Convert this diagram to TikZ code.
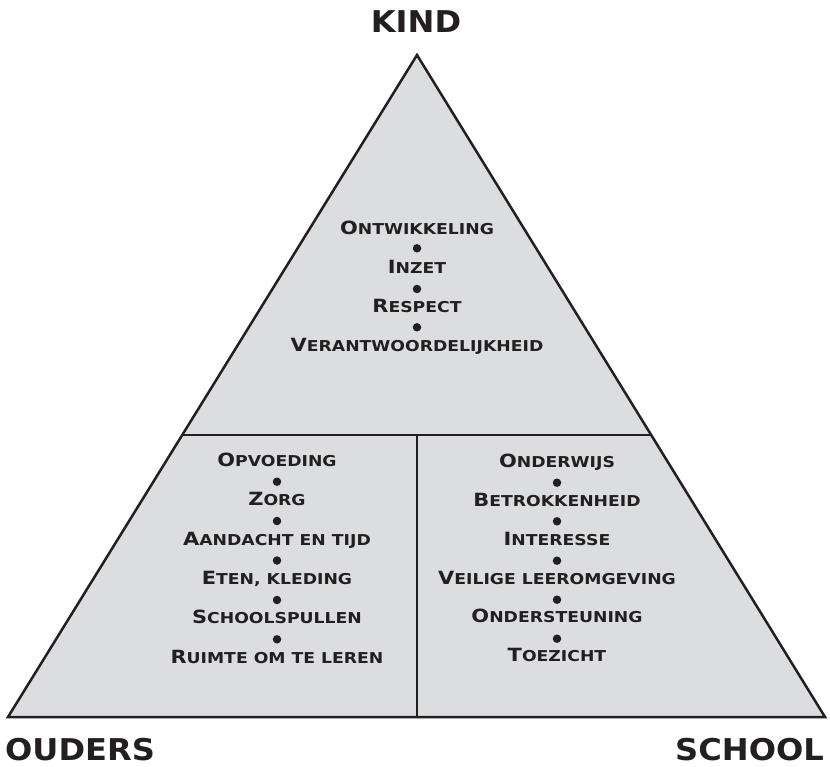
\documentclass[tikz,border=0pt]{standalone}
\usepackage{fontspec}
\newfontfamily\cgfont[FakeStretch=1.15]{DejaVu Sans Bold}
\newfontfamily\labfont[FakeStretch=1.07]{DejaVu Sans Bold}
\newcommand\scw[2]{{\fontsize{18.2}{18}\selectfont #1}{\fontsize{15}{15}\selectfont #2}}
\definecolor{fillgray}{RGB}{220,221,223}
\definecolor{ink}{RGB}{35,31,32}
\begin{document}
\begin{tikzpicture}[x=1pt,y=-1pt,
  item/.style={font=\cgfont, text=ink, inner sep=0pt, anchor=base},
  dot/.style={circle, fill=ink, inner sep=0pt, minimum size=8.5pt},
  corner/.style={font=\labfont\fontsize{30}{30}\selectfont, text=ink, inner sep=0pt},
  edge/.style={draw=ink, line width=2.5pt, line join=miter}]
\useasboundingbox (0,0) rectangle (830,766);
% triangle
\coordinate (top) at (417,55);
\coordinate (bl) at (8,717);
\coordinate (br) at (825,717);
\coordinate (ml) at (182.2,435);
\coordinate (mr) at (651.5,435);
\coordinate (mc) at (417,435);
\coordinate (bc) at (417,717);
\fill[fillgray] (top) -- (br) -- (bl) -- cycle;
\draw[edge] (ml) -- (mr);
\draw[edge] (mc) -- (bc);
\draw[edge] (top) -- (br) -- (bl) -- cycle;
% corner labels
\node[corner, anchor=base] (kind) at (416,32) {KIND};
\node[corner, anchor=base west] (ouders) at (5,760) {OUDERS};
\node[corner, anchor=base east] (school) at (824,760) {SCHOOL};
% top section
\node[item] (k1) at (417,234.8) {\scw{O}{NTWIKKELING}};
\node[dot] (kd1) at (417,248.3) {};
\node[item] (k2) at (417,273.5) {\scw{I}{NZET}};
\node[dot] (kd2) at (417,289) {};
\node[item] (k3) at (417,312.8) {\scw{R}{ESPECT}};
\node[dot] (kd3) at (417,327.3) {};
\node[item] (k4) at (417,351.8) {\scw{V}{ERANTWOORDELIJKHEID}};
% left section
\node[item] (o1) at (277,466) {\scw{O}{PVOEDING}};
\node[dot] (od1) at (277,481.7) {};
\node[item] (o2) at (277,505.5) {\scw{Z}{ORG}};
\node[dot] (od2) at (277,521) {};
\node[item] (o3) at (277,545) {\scw{A}{ANDACHT EN TIJD}};
\node[dot] (od3) at (277,560.5) {};
\node[item] (o4) at (277,584.3) {\scw{E}{TEN, KLEDING}};
\node[dot] (od4) at (277,600) {};
\node[item] (o5) at (277,623.7) {\scw{S}{CHOOLSPULLEN}};
\node[dot] (od5) at (277,639.3) {};
\node[item] (o6) at (277,663) {\scw{R}{UIMTE OM TE LEREN}};
% right section
\node[item] (s1) at (557,467.3) {\scw{O}{NDERWIJS}};
\node[dot] (sd1) at (557,482.7) {};
\node[item] (s2) at (557,506) {\scw{B}{ETROKKENHEID}};
\node[dot] (sd2) at (557,521.3) {};
\node[item] (s3) at (557,545) {\scw{I}{NTERESSE}};
\node[dot] (sd3) at (557,560.7) {};
\node[item] (s4) at (557,584) {\scw{V}{EILIGE LEEROMGEVING}};
\node[dot] (sd4) at (557,599.7) {};
\node[item] (s5) at (557,622.7) {\scw{O}{NDERSTEUNING}};
\node[dot] (sd5) at (557,638.7) {};
\node[item] (s6) at (557,661.7) {\scw{T}{OEZICHT}};
\end{tikzpicture}
\end{document}
